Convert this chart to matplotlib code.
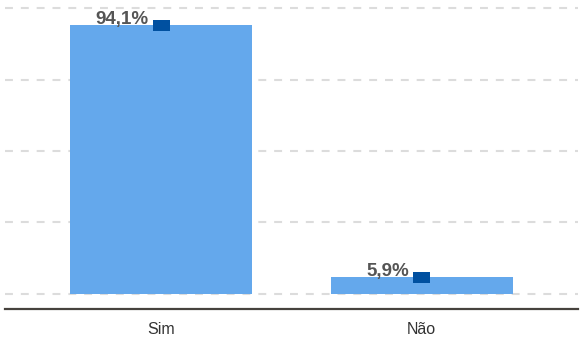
import matplotlib.pyplot as plt

# respostas e percentagens
categorias = ['Sim', 'Não']
valores = [94.1, 5.9]
rotulos = ['94,1%', '5,9%']
grade = [0, 25, 50, 75, 100]

plt.rcParams['font.family'] = ['Liberation Sans', 'DejaVu Sans']

fig = plt.figure(figsize=(5.8, 3.38), dpi=100)
ax = fig.add_axes([5 / 580, 29 / 338, 573 / 580, 309 / 338])

x = list(range(len(categorias)))

# barras principais
ax.bar(x, valores, width=0.70, color='#64a8ec', zorder=2)

# pequeno marcador escuro no topo de cada barra
ax.bar(x, [3.8] * len(valores), bottom=[v - 2.1 for v in valores],
       width=0.066, color='#0050a0', zorder=3)

# rótulos de valor à esquerda do marcador
for xi, v, r in zip(x, valores, rotulos):
    ax.annotate(r, (xi, v), xytext=(-13, 1), textcoords='offset pixels',
                ha='right', va='baseline', fontsize=13.5, fontweight='bold',
                color='#555555', zorder=4)

# linhas de grade tracejadas
for g in grade:
    ax.axhline(g, color='#dcdcdc', lw=1.5, linestyle=(0, (3.8, 3.8)), zorder=0)

ax.set_xlim(-0.6, 1.6)
ax.set_ylim(-5.25, 102.8)
ax.set_xticks(x)
ax.set_xticklabels(categorias, fontsize=11.5, color='#333333')
ax.set_yticks([])
ax.tick_params(axis='x', length=0, pad=9)

for s in ['top', 'left', 'right']:
    ax.spines[s].set_visible(False)
ax.spines['bottom'].set_color('#46423d')
ax.spines['bottom'].set_linewidth(1.6)

plt.savefig('out.png', dpi=100)
